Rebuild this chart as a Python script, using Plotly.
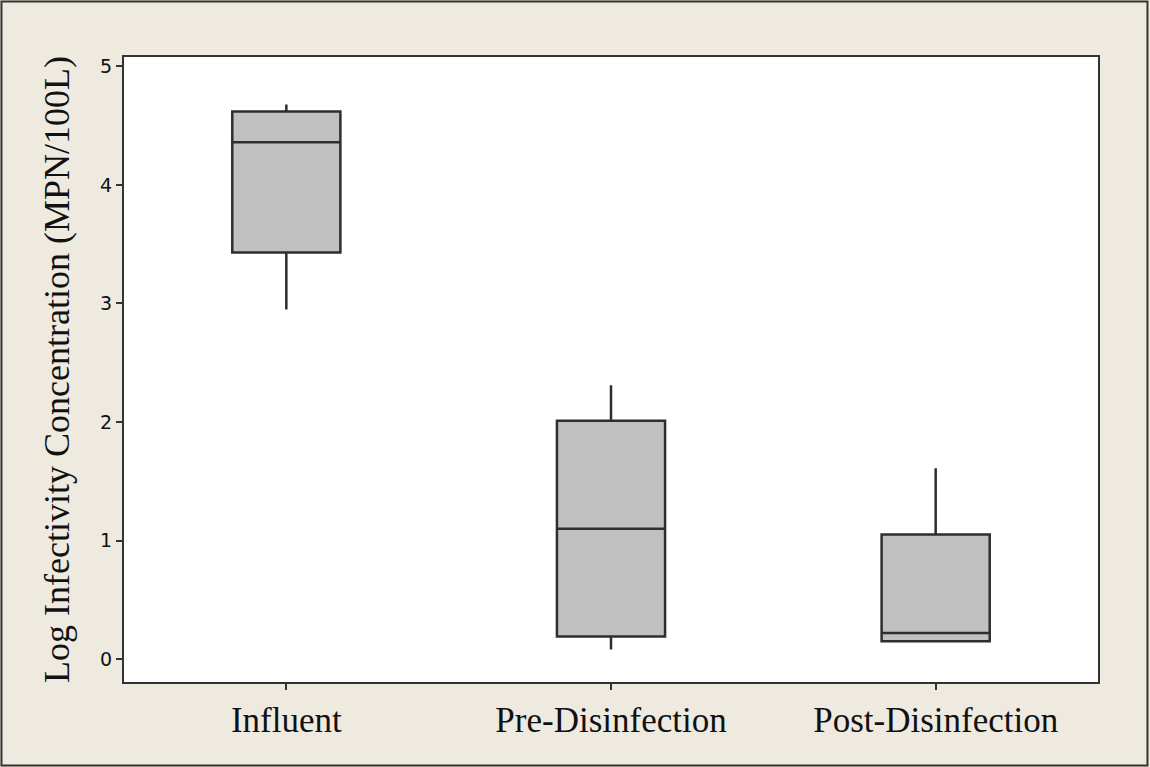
import plotly.graph_objects as go

categories = ["Influent", "Pre-Disinfection", "Post-Disinfection"]
lower_whisker = [2.95, 0.08, 0.15]
q1_values = [3.43, 0.19, 0.15]
median_values = [4.36, 1.10, 0.22]
q3_values = [4.62, 2.01, 1.05]
upper_whisker = [4.68, 2.31, 1.61]
y_ticks = [0, 1, 2, 3, 4, 5]

fig = go.Figure()
fig.add_trace(go.Box(
    x=categories,
    q1=q1_values,
    median=median_values,
    q3=q3_values,
    lowerfence=lower_whisker,
    upperfence=upper_whisker,
    fillcolor="#C0C0C0",
    line=dict(color="#2E2E2E", width=2.5),
    whiskerwidth=0,
    width=0.333,
    boxpoints=False,
    showlegend=False,
    hoverinfo="skip",
))

fig.update_layout(
    width=1150, height=767,
    margin=dict(l=124, r=52, t=57, b=85),
    paper_bgcolor="#EEEAE0",
    plot_bgcolor="#FFFFFF",
    xaxis=dict(
        type="category",
        range=[-0.5, 2.5],
        showgrid=False, zeroline=False,
        showline=True, linecolor="#333333", linewidth=2, mirror=True,
        ticks="outside", ticklen=6, tickwidth=2, tickcolor="#333333",
        tickfont=dict(family="Liberation Serif", size=35, color="#111111"),
    ),
    yaxis=dict(
        range=[-0.194, 5.08],
        tickvals=y_ticks,
        showgrid=False, zeroline=False,
        showline=True, linecolor="#333333", linewidth=2, mirror=True,
        ticks="outside", ticklen=6, tickwidth=2, tickcolor="#333333",
        tickfont=dict(family="DejaVu Sans", size=19, color="#111111"),
        title=dict(text="Log Infectivity Concentration (MPN/100L)",
                   font=dict(family="Liberation Serif", size=36, color="#111111"),
                   standoff=20),
    ),
    shapes=[dict(type="rect", xref="paper", yref="paper",
                 x0=-0.1258, x1=1.0508, y0=-0.1336, y1=1.0888,
                 line=dict(color="#333333", width=2), layer="below")],
)

fig.write_html("out.html", config={"displayModeBar": False},
               post_script="document.body.style.margin='0';document.body.style.overflow='hidden';")
